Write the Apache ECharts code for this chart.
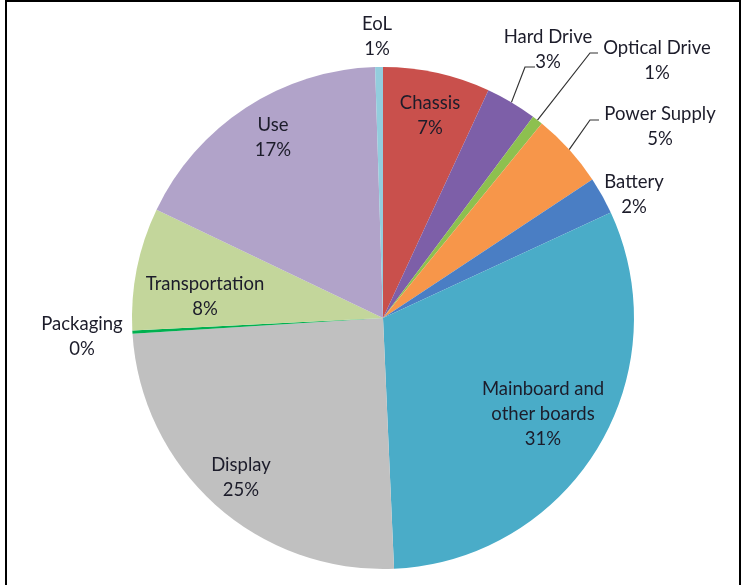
<!DOCTYPE html>
<html>
<head>
<meta charset="utf-8">
<script src="https://cdn.jsdelivr.net/npm/echarts@6/dist/echarts.min.js"></script>
<style>
  html, body { margin: 0; padding: 0; background: #fff; }
  #frame { position: absolute; left: 5px; top: 0px; width: 736px; height: 600px; border: 2px solid #000; box-sizing: border-box; }
  #chart { position: absolute; left: 0; top: 0; width: 746px; height: 585px; }
</style>
</head>
<body>
<div id="frame"></div>
<div id="chart"></div>
<script>
// ---- data ----
const categories = ['Chassis', 'Hard Drive', 'Optical Drive', 'Power Supply', 'Battery',
  'Mainboard and\nother boards', 'Display', 'Packaging', 'Transportation', 'Use', 'EoL'];
const shares = [6.9, 3.3, 0.7, 4.8, 2.4, 31.2, 24.7, 0.2, 7.9, 17.4, 0.5];

// ---- styling ----
const colors = ['#c9504c', '#7d5fa8', '#8dc04f', '#f7964a', '#4a7ec4',
  '#4aacc8', '#c0c0c0', '#00b050', '#c3d69b', '#b1a3c9', '#93cddd'];
const withLine = [false, true, true, true, false, false, false, false, false, false, false];
// label block centres and leader-line elbows (layout only)
const labelAt = [
  [430, 115.5], [548, 50], [657, 61], [660, 126.5], [634, 195],
  [543, 414], [241, 477.5], [82, 337], [205, 297], [273, 137.5], [377, 37]
];
const elbows = {
  1: [[525, 67], [535, 67]],
  2: [[590, 53], [598, 53]],
  3: [[590, 120], [599, 120]]
};

const chart = echarts.init(document.getElementById('chart'), null, { renderer: 'canvas' });
const data = categories.map((c, i) => ({
  name: c,
  value: shares[i],
  itemStyle: { color: colors[i] },
  label: { position: withLine[i] ? 'outside' : 'inside' },
  labelLine: { show: withLine[i] }
}));

chart.setOption({
  animation: false,
  series: [{
    type: 'pie',
    center: [383, 318],
    radius: [0, 251],
    startAngle: 90,
    clockwise: true,
    avoidLabelOverlap: false,
    itemStyle: { borderWidth: 0 },
    emphasis: { disabled: true },
    label: {
      show: true,
      fontFamily: 'Lato',
      fontSize: 18.5,
      lineHeight: 25,
      color: '#1c1c2a',
      align: 'center',
      formatter: p => p.name + '\n' + Math.round(p.value) + '%'
    },
    labelLine: {
      lineStyle: { color: '#333', width: 1.2 },
      length: 10, length2: 10
    },
    labelLayout: function (params) {
      const i = params.dataIndex;
      const out = { x: labelAt[i][0], y: labelAt[i][1], align: 'center', verticalAlign: 'middle' };
      if (elbows[i] && params.labelLinePoints) {
        out.labelLinePoints = [params.labelLinePoints[0], elbows[i][0], elbows[i][1]];
      }
      return out;
    },
    data: data
  }]
});
</script>
</body>
</html>
